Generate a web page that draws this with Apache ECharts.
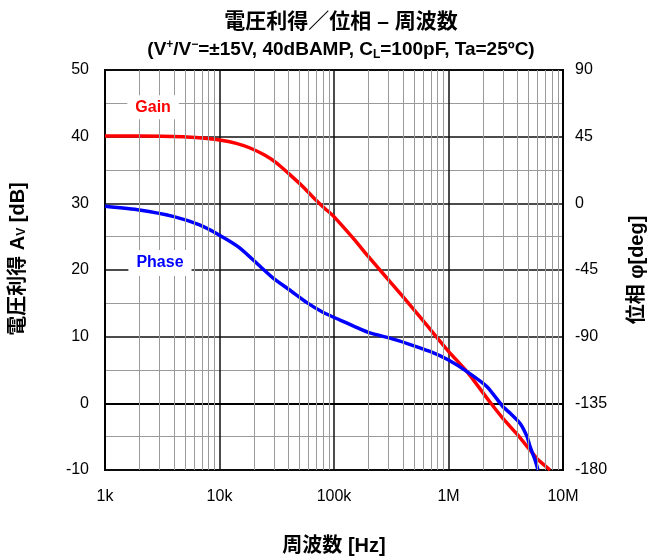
<!DOCTYPE html>
<html>
<head>
<meta charset="utf-8">
<script src="https://cdn.jsdelivr.net/npm/echarts@6/dist/echarts.min.js"></script>
<style>
  html, body { margin: 0; padding: 0; background: #fff; }
  #main { width: 652px; height: 557px; }
</style>
</head>
<body>
<div id="main"></div>
<script>
var FONT = '"Liberation Sans", Arial, "Noto Sans CJK JP", sans-serif';

// 周波数 [Hz] / 電圧利得 [dB]
var gainFreq = [1000, 2000, 4800, 7000, 10000, 14000, 18500, 25000, 31800, 40000, 53600, 65000, 80000, 100000, 113000, 150000, 200000, 252000, 400000, 600000, 1000000, 1450000, 2300000, 3000000, 4000000, 5150000, 6000000, 7700000];
var gainDb = [40.1, 40.1, 40.0, 39.8, 39.5, 39.0, 38.3, 37.2, 36.0, 34.5, 32.5, 31.0, 29.5, 28.0, 27.0, 24.6, 22.0, 20.0, 16.0, 12.4, 7.8, 4.75, 0.2, -2.3, -4.7, -7.0, -8.4, -10];

// 周波数 [Hz] / 位相 [deg]
var phaseFreq = [1000, 2000, 4000, 6700, 10000, 15000, 22600, 30000, 41000, 58000, 80000, 113000, 150000, 206000, 308000, 450000, 689000, 1000000, 1450000, 2170000, 2990000, 3440000, 4210000, 4850000, 5150000, 5690000, 6050000];
var phaseDeg = [-2, -4.5, -9, -14.6, -21.5, -30, -42.5, -51, -58.5, -67, -73.5, -78.8, -83, -87.5, -91, -95, -100, -105.8, -113.6, -123.8, -137.3, -141.5, -148.5, -157.5, -164, -173, -180];

var xTickLabels = { 1000: '1k', 10000: '10k', 100000: '100k', 1000000: '1M', 10000000: '10M' };
var minorFreq = [];
[1000, 10000, 100000, 1000000].forEach(function (d) {
  for (var k = 2; k <= 9; k++) minorFreq.push(d * k);
});

function pairs(xs, ys) {
  return xs.map(function (x, i) { return [x, ys[i]]; });
}

var myChart = echarts.init(document.getElementById('main'));
myChart.setOption({
  animation: false,
  textStyle: { fontFamily: FONT },
  title: [
    {
      text: '電圧利得／位相 – 周波数',
      left: 336, top: 6, textAlign: 'center',
      textStyle: { fontSize: 21, fontWeight: 'bold', color: '#000', fontFamily: FONT, lineHeight: 22 }
    },
    {
      text: '(V{sup|+}/V{sup|−}=±15V, 40dBAMP, C{sub|L}=100pF, Ta=25ºC)',
      left: 336, top: 34, textAlign: 'center',
      textStyle: {
        fontSize: 19, fontWeight: 'bold', color: '#000', fontFamily: FONT, lineHeight: 22,
        rich: {
          sup: { fontSize: 12, fontWeight: 'bold', verticalAlign: 'top', padding: [0, 0, 9, 0] },
          sub: { fontSize: 12, fontWeight: 'bold', verticalAlign: 'bottom', padding: [7, 0, 0, 0] }
        }
      }
    }
  ],
  grid: {
    left: 105, right: 89, top: 70, bottom: 87,
    outerBoundsMode: 'none',
    show: true, borderColor: '#000', borderWidth: 2, backgroundColor: '#fff'
  },
  xAxis: {
    type: 'log', logBase: 10, min: 1000, max: 10000000,
    name: '周波数 [Hz]', nameLocation: 'middle', nameGap: 66,
    nameTextStyle: { fontSize: 20, fontWeight: 'bold', color: '#000' },
    axisLine: { lineStyle: { color: '#000', width: 2 } },
    axisTick: { show: false },
    axisLabel: {
      fontSize: 16, color: '#000', margin: 19,
      formatter: function (v) { return xTickLabels[Math.round(v)] || ''; }
    },
    splitLine: { show: true, lineStyle: { color: '#111', width: 1.5 } }
  },
  yAxis: [
    {
      type: 'value', min: -10, max: 50, interval: 10,
      name: '電圧利得 A{sub|V} [dB]', nameLocation: 'middle', nameGap: 77, nameRotate: 90,
      nameTextStyle: {
        fontSize: 20, fontWeight: 'bold', color: '#000', padding: [0, 0, 0, 22],
        rich: { sub: { fontSize: 12, fontWeight: 'bold', verticalAlign: 'bottom', padding: [7, 0, 0, 0] } }
      },
      axisLine: { show: true, lineStyle: { color: '#000', width: 2 } },
      axisTick: { show: false },
      axisLabel: { fontSize: 16, color: '#000', margin: 16 },
      splitLine: { show: true, lineStyle: { color: '#111', width: 1.5 } },
      minorTick: { show: false, splitNumber: 2 },
      minorSplitLine: { show: true, lineStyle: { color: '#9a9a9a', width: 1 } }
    },
    {
      type: 'value', min: -180, max: 90, interval: 45,
      name: '位相 φ[deg]', nameLocation: 'middle', nameGap: 64, nameRotate: 90,
      nameTextStyle: { fontSize: 20, fontWeight: 'bold', color: '#000' },
      axisLine: { show: true, lineStyle: { color: '#000', width: 2 } },
      axisTick: { show: false },
      axisLabel: { fontSize: 16, color: '#000', margin: 12 },
      splitLine: { show: false }
    }
  ],
  series: [
    {
      name: 'grid-minor', type: 'line', data: [], silent: true, z: 1,
      markLine: {
        silent: true, symbol: 'none', label: { show: false },
        lineStyle: { color: '#9a9a9a', width: 1, type: 'solid' },
        data: minorFreq.map(function (f) { return { xAxis: f }; })
      }
    },
    {
      name: 'Gain', type: 'line', yAxisIndex: 0, smooth: 0.2, showSymbol: false, z: 3,
      data: pairs(gainFreq, gainDb),
      lineStyle: { color: '#ff0000', width: 3.5 },
      itemStyle: { color: '#ff0000' },
      markPoint: {
        symbolSize: 0,
        data: [{ coord: [2630, 44.4] }],
        label: {
          show: true, formatter: 'Gain', color: '#ff0000', fontSize: 16, fontWeight: 'bold',
          backgroundColor: '#fff', padding: [4, 8, 4, 8]
        }
      }
    },
    {
      name: 'Phase', type: 'line', yAxisIndex: 1, smooth: 0.2, showSymbol: false, z: 3,
      data: pairs(phaseFreq, phaseDeg),
      lineStyle: { color: '#0000ff', width: 3.5 },
      itemStyle: { color: '#0000ff' },
      markPoint: {
        symbolSize: 0,
        data: [{ coord: [3020, -40.3] }],
        label: {
          show: true, formatter: 'Phase', color: '#0000ff', fontSize: 16, fontWeight: 'bold',
          backgroundColor: '#fff', padding: [5, 8, 5, 8]
        }
      }
    }
  ]
});
</script>
</body>
</html>
